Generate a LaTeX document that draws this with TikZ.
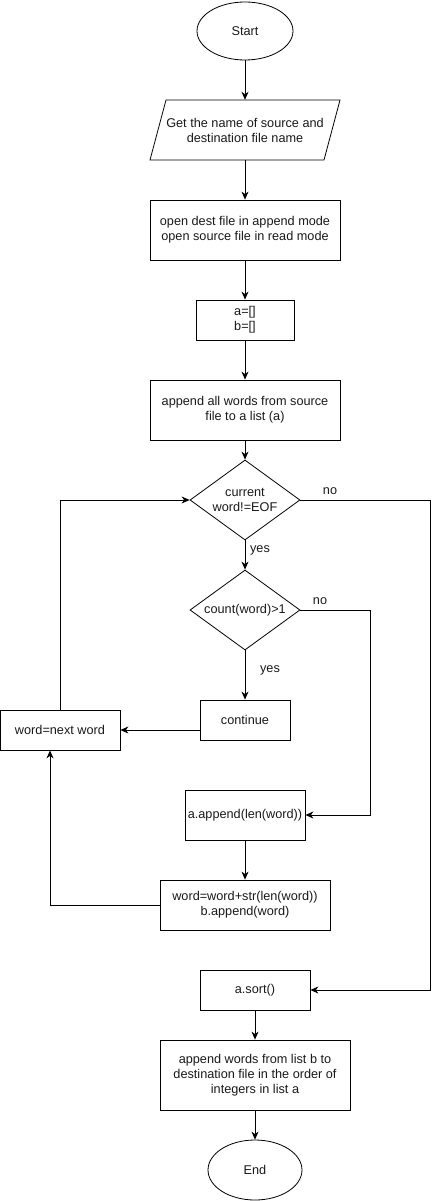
\documentclass[tikz,border=0pt]{standalone}
\usepackage{fontspec}
\setmainfont{Liberation Sans}
\usetikzlibrary{shapes.geometric,arrows.meta}
\begin{document}
\begin{tikzpicture}[x=1pt,y=-1pt,
  every node/.style={font=\fontsize{12.7}{15}\selectfont, text=black!90, inner sep=0pt, align=center},
  term/.style={draw, ellipse, line width=0.8pt},
  proc/.style={draw, rectangle, line width=0.8pt},
  dec/.style={draw, diamond, aspect=1.375, line width=0.8pt},
  lbl/.style={font=\fontsize{12.7}{15}\selectfont},
  conn/.style={line width=0.8pt, -{Stealth[length=8pt,width=7pt,inset=2.5pt]}},
  line/.style={line width=0.8pt}]
\useasboundingbox (0,0) rectangle (439,1201);
\node[term, minimum width=96pt, minimum height=58pt] (start) at (245,31) {Start};
\node[minimum width=190pt, minimum height=60pt] (par) at (245,130) {Get the name of source and\\destination file name};
\draw[line width=0.8pt] (150,160) -- (166,100) -- (340,100) -- (324,160) -- cycle;
\node[proc, minimum width=190pt, minimum height=60pt] (open) at (245,230) {open dest file in append mode\\open source file in read mode};
\node[proc, minimum width=98pt, minimum height=40pt] (ab) at (245,320) {a=[]\\b=[]};
\node[proc, minimum width=190pt, minimum height=60pt] (all) at (245,410) {append all words from source\\file to a list (a)};
\node[dec, minimum width=110pt, minimum height=80pt] (d1) at (245,500) {current\\word!=EOF};
\node[dec, minimum width=110pt, minimum height=80pt] (d2) at (245,610) {count(word)>1};
\node[proc, minimum width=90pt, minimum height=40pt] (cont) at (245,720) {continue};
\node[proc, minimum width=120pt, minimum height=40pt] (next) at (60,730) {word=next word};
\node[proc, minimum width=120pt, minimum height=50pt] (app) at (245,815) {a.append(len(word))};
\node[proc, minimum width=170pt, minimum height=50pt] (ww) at (245,905) {word=word+str(len(word))\\b.append(word)};
\node[proc, minimum width=110pt, minimum height=40pt] (sort) at (255,990) {a.sort()};
\node[proc, minimum width=190pt, minimum height=70pt] (fin) at (255,1075) {append words from list b to\\destination file in the order of\\integers in list a};
\node[term, minimum width=94pt, minimum height=60pt] (end) at (255,1170) {End};
\coordinate (c1) at (430,500);
\coordinate (c2) at (370,610);
\coordinate (c3) at (50,905);
\coordinate (c4) at (60,500);
\draw[conn] (start) -- (par);
\draw[conn] (par) -- (open);
\draw[conn] (open) -- (ab);
\draw[conn] (ab) -- (all);
\draw[conn] (all) -- (d1);
\draw[conn] (d1) -- (d2);
\draw[conn] (d2) -- (cont);
\draw[conn] (cont.west |- 0,730) -- (next.east);
\draw[conn] (next.north) -- (c4) -- (d1.west);
\draw[conn] (d1.east) -- (c1) |- (sort.east);
\draw[conn] (d2.east) -- (c2) |- (app.east);
\draw[conn] (app) -- (ww);
\draw[conn] (ww.west) -- (c3) -- (next.south -| c3);
\draw[conn] (sort) -- (fin);
\draw[conn] (fin) -- (end);
\node[lbl] (l1) at (330,491) {no};
\node[lbl] (l2) at (260,550) {yes};
\node[lbl] (l3) at (320,601) {no};
\node[lbl] (l4) at (270,670) {yes};
\end{tikzpicture}
\end{document}
